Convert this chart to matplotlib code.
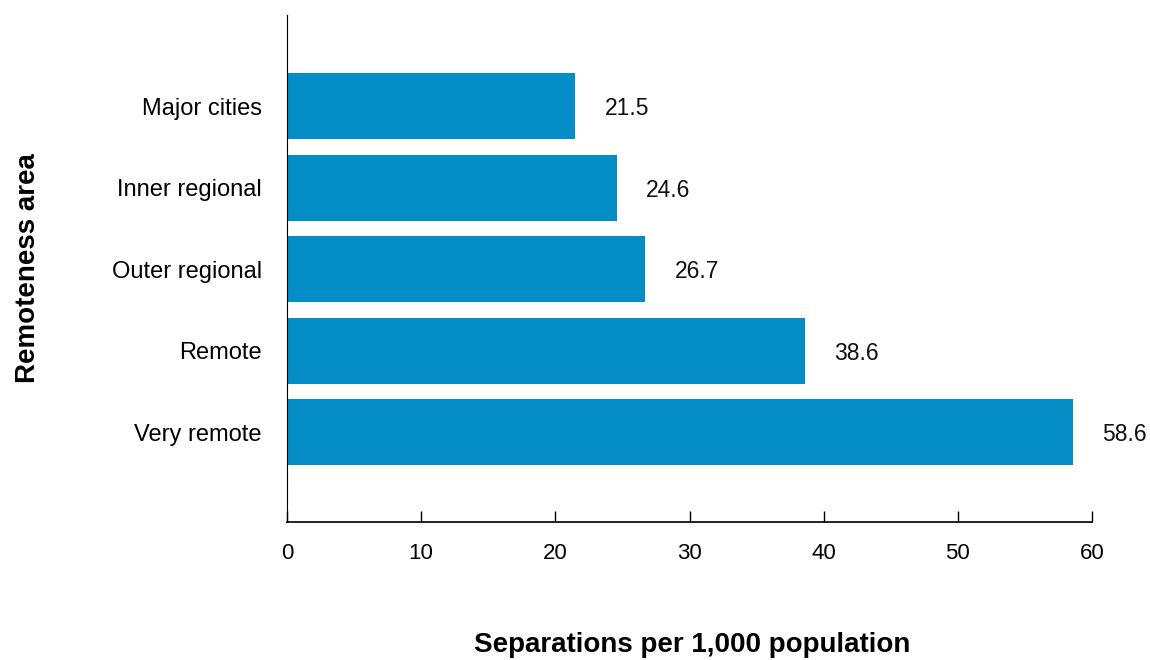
import matplotlib.pyplot as plt

# Hospital separations by remoteness
areas = ['Major cities', 'Inner regional', 'Outer regional', 'Remote', 'Very remote']
rates = [21.5, 24.6, 26.7, 38.6, 58.6]
xticks = [0, 10, 20, 30, 40, 50, 60]

plt.rcParams['font.family'] = ['Liberation Sans', 'DejaVu Sans']

fig = plt.figure(figsize=(11.5, 6.6), dpi=100)
ax = fig.add_axes([287 / 1150, 1 - 522 / 660, 805 / 1150, 507 / 660])

pos = list(range(len(areas)))[::-1]
ax.barh(pos, rates, height=0.81, color='#048dc7')

for p, v in zip(pos, rates):
    ax.annotate(f'{v:.1f}', (v, p), xytext=(21, 0), textcoords='offset points',
                va='center_baseline', ha='left', fontsize=16.5, color='#111111')

ax.set_xlim(0, 60)
ax.set_ylim(-1.104, 5.117)
ax.set_xticks(xticks)
ax.set_yticks(pos)
ax.set_yticklabels(areas)
ax.tick_params(axis='x', direction='in', length=8, width=1, labelsize=16, pad=15)
ax.tick_params(axis='y', length=0, labelsize=17, pad=18)

for s in ['top', 'right']:
    ax.spines[s].set_visible(False)
ax.spines['left'].set_linewidth(0.8)
ax.spines['bottom'].set_linewidth(1.2)

# axis titles placed in figure coords
fig.text(692 / 1150, 1 - 645 / 660, 'Separations per 1,000 population',
         fontsize=20, fontweight='bold', ha='center', va='center')
fig.text(28 / 1150, 1 - 268 / 660, 'Remoteness area', rotation=90,
         fontsize=20, fontweight='bold', ha='center', va='center')

fig.savefig('out.png', dpi=100)
